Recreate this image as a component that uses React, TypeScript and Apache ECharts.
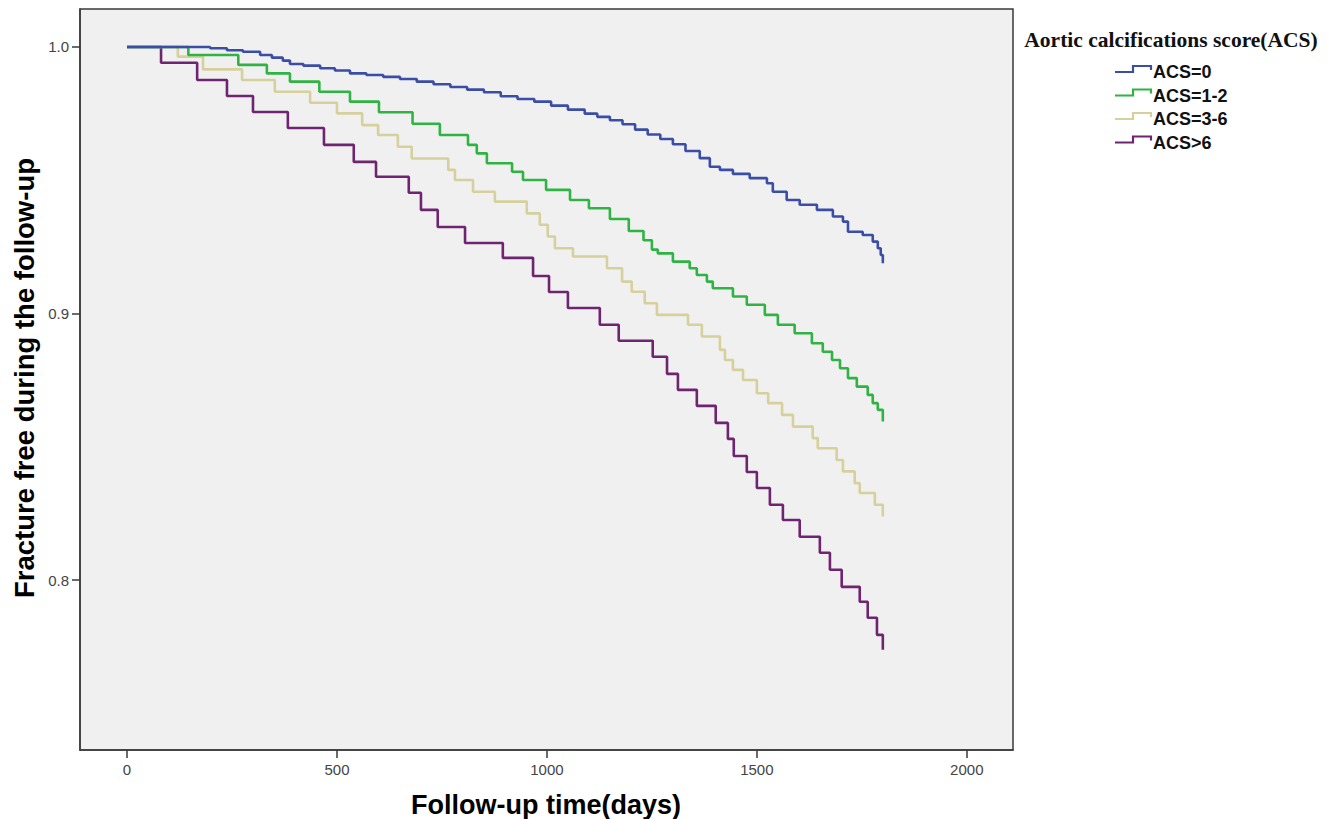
import React, { useEffect, useRef } from "react";
import * as echarts from "echarts";

const xTicks = [0, 500, 1000, 1500, 2000];
const yTicks = [0.8, 0.9, 1.0];

const seriesNames = ["ACS=0", "ACS=1-2", "ACS=3-6", "ACS>6"];
const seriesColors = ["#3b4ea6", "#2fb443", "#d6d09c", "#6e2470"];

const daysACS0 = [0, 150, 198, 238, 276, 317, 345, 371, 388, 420, 460, 495, 531, 570, 610, 650, 690, 730, 770, 810, 850, 890, 930, 970, 1010, 1050, 1090, 1120, 1150, 1180, 1210, 1240, 1270, 1300, 1330, 1364, 1388, 1412, 1443, 1483, 1524, 1538, 1571, 1602, 1643, 1681, 1705, 1717, 1752, 1776, 1788, 1795, 1800];
const survACS0 = [1.0, 1.0, 0.9995, 0.9988, 0.9982, 0.997, 0.996, 0.9949, 0.9936, 0.993, 0.992, 0.9912, 0.9901, 0.9895, 0.9888, 0.988, 0.987, 0.986, 0.985, 0.984, 0.983, 0.9815, 0.9805, 0.9795, 0.978, 0.9765, 0.975, 0.9738, 0.9725, 0.971, 0.969, 0.9672, 0.9655, 0.9635, 0.961, 0.9583, 0.9551, 0.9539, 0.9524, 0.9508, 0.9489, 0.9457, 0.9426, 0.9408, 0.9389, 0.9364, 0.9345, 0.9307, 0.9295, 0.927, 0.9245, 0.922, 0.9189];

const daysACS12 = [0, 146, 265, 333, 388, 458, 531, 600, 680, 745, 812, 833, 857, 917, 943, 998, 1055, 1100, 1150, 1195, 1230, 1250, 1264, 1300, 1340, 1357, 1381, 1395, 1443, 1476, 1519, 1550, 1590, 1631, 1657, 1679, 1698, 1717, 1738, 1764, 1776, 1788, 1800];
const survACS12 = [1.0, 0.997, 0.9933, 0.9901, 0.987, 0.9832, 0.9795, 0.9755, 0.9712, 0.967, 0.9633, 0.9601, 0.9564, 0.9532, 0.9501, 0.9464, 0.9426, 0.9395, 0.9355, 0.931, 0.9275, 0.924, 0.9226, 0.9195, 0.917, 0.9145, 0.912, 0.9095, 0.9064, 0.9033, 0.8995, 0.8958, 0.8926, 0.8889, 0.8857, 0.8826, 0.8795, 0.8758, 0.8726, 0.8695, 0.8664, 0.8639, 0.8595];

const daysACS36 = [0, 121, 181, 274, 352, 436, 500, 560, 598, 645, 678, 765, 781, 824, 876, 952, 983, 1002, 1019, 1062, 1143, 1179, 1202, 1233, 1262, 1336, 1369, 1412, 1424, 1443, 1467, 1500, 1527, 1560, 1586, 1633, 1645, 1690, 1705, 1733, 1745, 1781, 1800];
const survACS36 = [1.0, 0.9964, 0.9916, 0.9876, 0.9832, 0.9791, 0.9751, 0.9707, 0.967, 0.9626, 0.9582, 0.9539, 0.9501, 0.9457, 0.942, 0.9376, 0.9333, 0.9289, 0.9245, 0.9214, 0.917, 0.912, 0.9082, 0.9039, 0.8995, 0.8958, 0.8914, 0.8864, 0.8826, 0.8789, 0.8751, 0.8701, 0.8664, 0.862, 0.8576, 0.8533, 0.8495, 0.8451, 0.8408, 0.8364, 0.8327, 0.8283, 0.8239];

const daysACS6 = [0, 81, 167, 238, 300, 383, 469, 540, 593, 671, 700, 740, 805, 895, 967, 1005, 1050, 1126, 1171, 1252, 1286, 1312, 1357, 1402, 1431, 1445, 1476, 1500, 1531, 1562, 1602, 1650, 1674, 1702, 1745, 1764, 1786, 1800];
const survACS6 = [1.0, 0.9941, 0.9876, 0.9816, 0.9756, 0.9696, 0.9633, 0.9569, 0.9513, 0.9453, 0.9389, 0.9325, 0.9265, 0.9209, 0.9141, 0.9081, 0.9021, 0.8958, 0.8898, 0.8838, 0.8774, 0.8714, 0.8654, 0.859, 0.853, 0.8466, 0.8406, 0.8346, 0.8283, 0.8226, 0.8163, 0.8103, 0.8039, 0.7975, 0.7919, 0.7859, 0.7795, 0.7739];

const legendTitle = "Aortic calcifications score(ACS)";
const xTitle = "Follow-up time(days)";
const yTitle = "Fracture free during the follow-up";

const SANS = "'Liberation Sans', Arial, sans-serif";
const SERIF = "'Liberation Serif', 'Times New Roman', serif";

function pairs(d: number[], s: number[]) {
  return d.map((x, i) => [x, s[i]]);
}

export default function App() {
  const ref = useRef<HTMLDivElement>(null);
  useEffect(() => {
    if (!ref.current) return;
    const chart = echarts.init(ref.current, null, { renderer: "svg" });
    const allData = [
      pairs(daysACS0, survACS0),
      pairs(daysACS12, survACS12),
      pairs(daysACS36, survACS36),
      pairs(daysACS6, survACS6),
    ];
    const legendRows = [72, 95.5, 119, 142.5];
    const legendGraphics: any[] = [];
    seriesNames.forEach((name, i) => {
      const y = legendRows[i];
      legendGraphics.push({
        type: "polyline",
        shape: { points: [[1115, y], [1133, y], [1133, y - 6], [1151, y - 6], [1151, y - 2]] },
        style: { stroke: seriesColors[i], lineWidth: 2.2, fill: "none" },
      });
      legendGraphics.push({
        type: "text",
        x: 1153,
        y: y,
        style: {
          text: name,
          fontSize: 18,
          fontWeight: "bold",
          fontFamily: SANS,
          fill: "#111",
          textAlign: "left",
          textVerticalAlign: "middle",
          align: "left",
          verticalAlign: "middle",
        },
      });
    });
    chart.setOption({
      animation: false,
      backgroundColor: "#ffffff",
      grid: {
        left: 80,
        top: 9,
        right: 319,
        bottom: 69,
        show: true,
        backgroundColor: "#f0f0f0",
        borderColor: "#3a3a3a",
        borderWidth: 1.5,
      },
      xAxis: {
        type: "value",
        min: -112,
        max: 2110,
        splitLine: { show: false },
        axisLine: { show: true, onZero: false, lineStyle: { color: "#3a3a3a", width: 1.5 } },
        axisTick: { show: true, length: 8, inside: false, customValues: xTicks, lineStyle: { color: "#3a3a3a", width: 1.5 } },
        axisLabel: {
          customValues: xTicks,
          margin: 12,
          fontSize: 15,
          color: "#444",
          fontFamily: SANS,
          formatter: (v: number) => String(v),
        },
      },
      yAxis: {
        type: "value",
        min: 0.7363,
        max: 1.01425,
        splitLine: { show: false },
        axisLine: { show: true, onZero: false, lineStyle: { color: "#3a3a3a", width: 1.5 } },
        axisTick: { show: true, length: 8, inside: false, customValues: yTicks, lineStyle: { color: "#3a3a3a", width: 1.5 } },
        axisLabel: {
          customValues: yTicks,
          margin: 11,
          fontSize: 15,
          color: "#444",
          fontFamily: SANS,
          formatter: (v: number) => v.toFixed(1),
        },
      },
      series: allData.map((data, i) => ({
        name: seriesNames[i],
        type: "line",
        step: "end",
        data,
        showSymbol: false,
        symbol: "none",
        lineStyle: { color: seriesColors[i], width: 2.6 },
        itemStyle: { color: seriesColors[i] },
        z: 10 - i,
      })),
      graphic: [
        {
          type: "text",
          x: 546,
          y: 805,
          style: {
            text: xTitle,
            fontSize: 27,
            fontWeight: "bold",
            fontFamily: SANS,
            fill: "#000",
            textAlign: "center",
            textVerticalAlign: "middle",
            align: "center",
            verticalAlign: "middle",
          },
        },
        {
          type: "text",
          x: 24,
          y: 378,
          rotation: Math.PI / 2,
          style: {
            text: yTitle,
            fontSize: 27.5,
            fontWeight: "bold",
            fontFamily: SANS,
            fill: "#000",
            textAlign: "center",
            textVerticalAlign: "middle",
            align: "center",
            verticalAlign: "middle",
          },
        },
        {
          type: "text",
          x: 1171,
          y: 40,
          style: {
            text: legendTitle,
            fontSize: 21.5,
            fontWeight: "bold",
            fontFamily: SERIF,
            fill: "#111",
            textAlign: "center",
            textVerticalAlign: "middle",
            align: "center",
            verticalAlign: "middle",
          },
        },
        ...legendGraphics,
      ],
    });
    return () => chart.dispose();
  }, []);
  return (
    <div
      ref={ref}
      style={{ position: "absolute", left: 0, top: 0, width: 1332, height: 819 }}
    />
  );
}
